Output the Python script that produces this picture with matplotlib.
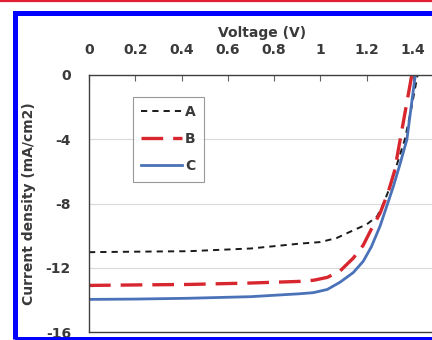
import matplotlib
matplotlib.use("Agg")
import matplotlib.pyplot as plt
from matplotlib.patches import Rectangle
from matplotlib.lines import Line2D

plt.rcParams['font.family'] = ['DejaVu Sans']
plt.rcParams['font.weight'] = 'bold'

# J-V curves
v_a = [0, 0.2, 0.43, 0.7, 0.91, 1.0, 1.07, 1.13, 1.2, 1.245, 1.27, 1.3, 1.33, 1.365, 1.39, 1.42]
j_a = [-11.03, -11.0, -10.97, -10.8, -10.5, -10.4, -10.15, -9.75, -9.3, -8.8, -8.1, -7.0, -5.6, -4.0, -2.3, 0]

v_b = [0, 0.2, 0.43, 0.7, 0.91, 0.97, 1.03, 1.085, 1.142, 1.185, 1.22, 1.258, 1.293, 1.32, 1.345, 1.37, 1.395]
j_b = [-13.1, -13.07, -13.04, -12.95, -12.85, -12.78, -12.6, -12.2, -11.4, -10.6, -9.6, -8.6, -7.3, -6.0, -4.0, -2.0, 0]

v_c = [0, 0.2, 0.43, 0.7, 0.91, 0.97, 1.03, 1.085, 1.142, 1.185, 1.22, 1.258, 1.286, 1.315, 1.345, 1.374, 1.41]
j_c = [-13.97, -13.95, -13.9, -13.8, -13.62, -13.55, -13.35, -12.9, -12.3, -11.6, -10.7, -9.4, -8.2, -6.95, -5.5, -4.0, 0]

x_ticks = [0, 0.2, 0.4, 0.6, 0.8, 1, 1.2, 1.4]
x_labels = ['0', '0.2', '0.4', '0.6', '0.8', '1', '1.2', '1.4']
y_ticks = [0, -4, -8, -12, -16]
y_labels = ['0', '-4', '-8', '-12', '-16']

txt = '#3a3a3a'

fig = plt.figure(figsize=(4.32, 3.40), dpi=100)
W, H = 432.0, 340.0

# red rule and blue frame from the page crop
fig.add_artist(Line2D([0, 1], [1 - 1 / H, 1 - 1 / H], color='#e02030', lw=1.6))
fig.add_artist(Rectangle((14.5 / W, 1 - 338.5 / H), 440 / W, (338.5 - 13) / H,
                         fill=False, edgecolor='#0000ff', lw=3.6))

ax = fig.add_axes([89 / W, 1 - 332 / H, 1.5 * 231.4 / W, 257 / H])
ax.set_xlim(0, 1.5)
ax.set_ylim(-16, 0)

ax.plot(v_a, j_a, color='#1a1a1a', lw=1.4, dashes=(3.2, 2.6), label='A')
ax.plot(v_b, j_b, color='#d8262e', lw=2.4, dashes=(6.5, 3.0), label='B')
ax.plot(v_c, j_c, color='#4a72b8', lw=2.0, label='C')

ax.xaxis.tick_top()
ax.xaxis.set_label_position('top')
ax.set_xticks(x_ticks)
ax.set_xticklabels(x_labels)
ax.set_yticks(y_ticks)
ax.set_yticklabels(y_labels)
ax.tick_params(axis='x', direction='in', length=4, width=0.8, color='#606060',
               labelsize=10, labelcolor=txt, pad=13)
ax.tick_params(axis='y', length=0, labelsize=10, labelcolor=txt, pad=13)
for lab in ax.get_xticklabels() + ax.get_yticklabels():
    lab.set_fontweight('bold')

ax.set_xlabel('Voltage (V)', fontsize=10, fontweight='bold', color=txt, labelpad=4)
ax.set_ylabel('Current density (mA/cm2)', fontsize=10, fontweight='bold', color=txt, labelpad=7)

ax.grid(axis='y', color='#d9d9d9', lw=0.8)
ax.set_axisbelow(True)
ax.spines['right'].set_visible(False)
for s in ['top', 'left', 'bottom']:
    ax.spines[s].set_color('#404040')
    ax.spines[s].set_linewidth(1.0)

leg = ax.legend(loc='upper left', bbox_to_anchor=((133 - 89) / (1.5 * 231.4), 1 - (97 - 75) / 257),
                frameon=True, fancybox=False, fontsize=10, handlelength=2.9,
                borderpad=0.6, labelspacing=0.93, handletextpad=0.25, borderaxespad=0)
leg.get_frame().set_edgecolor('#808080')
leg.get_frame().set_linewidth(0.8)
for t in leg.get_texts():
    t.set_color(txt)
    t.set_fontweight('bold')

fig.savefig('out.png', dpi=100)
